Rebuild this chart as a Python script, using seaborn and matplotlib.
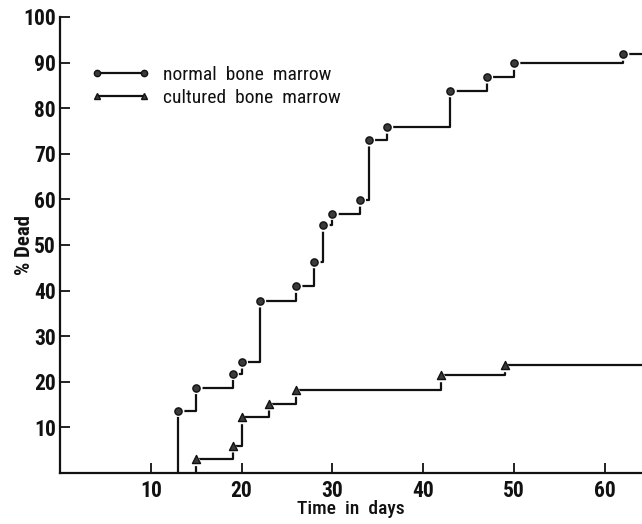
import matplotlib
matplotlib.use("Agg")
import matplotlib.pyplot as plt
from matplotlib import font_manager
import seaborn as sns
import pandas as pd
from matplotlib.lines import Line2D

# Day of each death and cumulative % dead, per graft group
normal_days = [13, 15, 19, 20, 22, 26, 28, 29, 30, 33, 34, 36, 43, 47, 50, 62]
normal_dead = [13.7, 18.7, 21.8, 24.3, 37.7, 40.9, 46.3, 54.3, 56.9, 59.8,
               73.0, 75.8, 83.8, 86.8, 89.8, 91.8]
cultured_days = [15, 19, 20, 23, 26, 42, 49]
cultured_dead = [3.0, 6.0, 12.2, 15.2, 18.2, 21.4, 23.6]

x_ticks = [10, 20, 30, 40, 50, 60]
y_ticks = [10, 20, 30, 40, 50, 60, 70, 80, 90, 100]
x_max = 64.1

sns.set_theme(style="ticks")

# prefer a narrow face for the tall condensed lettering
installed = {f.name for f in font_manager.fontManager.ttflist}
narrow = [n for n in ("Roboto Condensed", "Liberation Sans Narrow",
                      "DejaVu Sans Condensed", "Open Sans Condensed") if n in installed]
plt.rcParams["font.family"] = narrow + ["Liberation Sans", "DejaVu Sans"]
plt.rcParams["font.stretch"] = "condensed"

fig = plt.figure(figsize=(6.42, 5.24), dpi=100)
ax = fig.add_axes([0.0935, 0.0973, 0.9065, 0.8703])

ink = "#111111"
fill = "#3a3a3a"


def survival_steps(days, dead):
    # start each curve from the axis and carry the last level to the edge
    xs = [days[0]] + list(days) + [x_max]
    ys = [0.0] + list(dead) + [dead[-1]]
    return xs, ys


groups = [
    ("normal bone marrow", normal_days, normal_dead, "o", 5.2),
    ("cultured bone marrow", cultured_days, cultured_dead, "^", 5.8),
]

for label, days, dead, marker, size in groups:
    xs, ys = survival_steps(days, dead)
    ax.step(xs, ys, where="post", color=ink, lw=1.6, zorder=2)
    pts = pd.DataFrame({"day": days, "dead": dead})
    # white halo leaves a small gap between marker and line
    sns.scatterplot(data=pts, x="day", y="dead", marker=marker, s=(size + 4) ** 2,
                    color="white", edgecolor="none", linewidth=0, ax=ax, zorder=3,
                    legend=False)
    sns.scatterplot(data=pts, x="day", y="dead", marker=marker, s=size ** 2,
                    color=fill, edgecolor=ink, linewidth=1.0, ax=ax, zorder=4,
                    legend=False)

ax.set_xlim(0, x_max)
ax.set_ylim(0, 100)
ax.set_xticks(x_ticks)
ax.set_yticks(y_ticks)
ax.tick_params(axis="both", direction="in", length=7, width=1.3, color=ink,
               labelsize=15.5, labelcolor=ink, pad=3)
ax.tick_params(axis="x", pad=5)
for t in ax.get_xticklabels() + ax.get_yticklabels():
    t.set_fontweight("bold")

sns.despine(ax=ax)
for side in ("left", "bottom"):
    ax.spines[side].set_color(ink)
    ax.spines[side].set_linewidth(1.6)

ax.set_xlabel("Time  in  days", fontsize=14, color=ink, fontweight="medium")
ax.set_ylabel("% Dead", fontsize=15, color=ink, fontweight="bold")
ax.xaxis.set_label_coords(0.5, -0.06)
ax.yaxis.set_label_coords(-0.045, 0.5)

handles = [
    Line2D([], [], color=ink, lw=1.6, marker="o", markersize=4.5,
           markerfacecolor=fill, markeredgecolor=ink),
    Line2D([], [], color=ink, lw=1.6, marker="^", markersize=4.5,
           markerfacecolor=fill, markeredgecolor=ink),
]
leg = ax.legend(handles, ["normal  bone  marrow", "cultured  bone  marrow"],
                loc="upper left", bbox_to_anchor=(0.04, 0.91), frameon=False,
                numpoints=2, handlelength=3.0, handletextpad=0.7,
                labelspacing=0.28, borderaxespad=0,
                prop={"size": 14, "weight": "normal"})
for t in leg.get_texts():
    t.set_color(ink)

fig.savefig("out.png", dpi=100)
